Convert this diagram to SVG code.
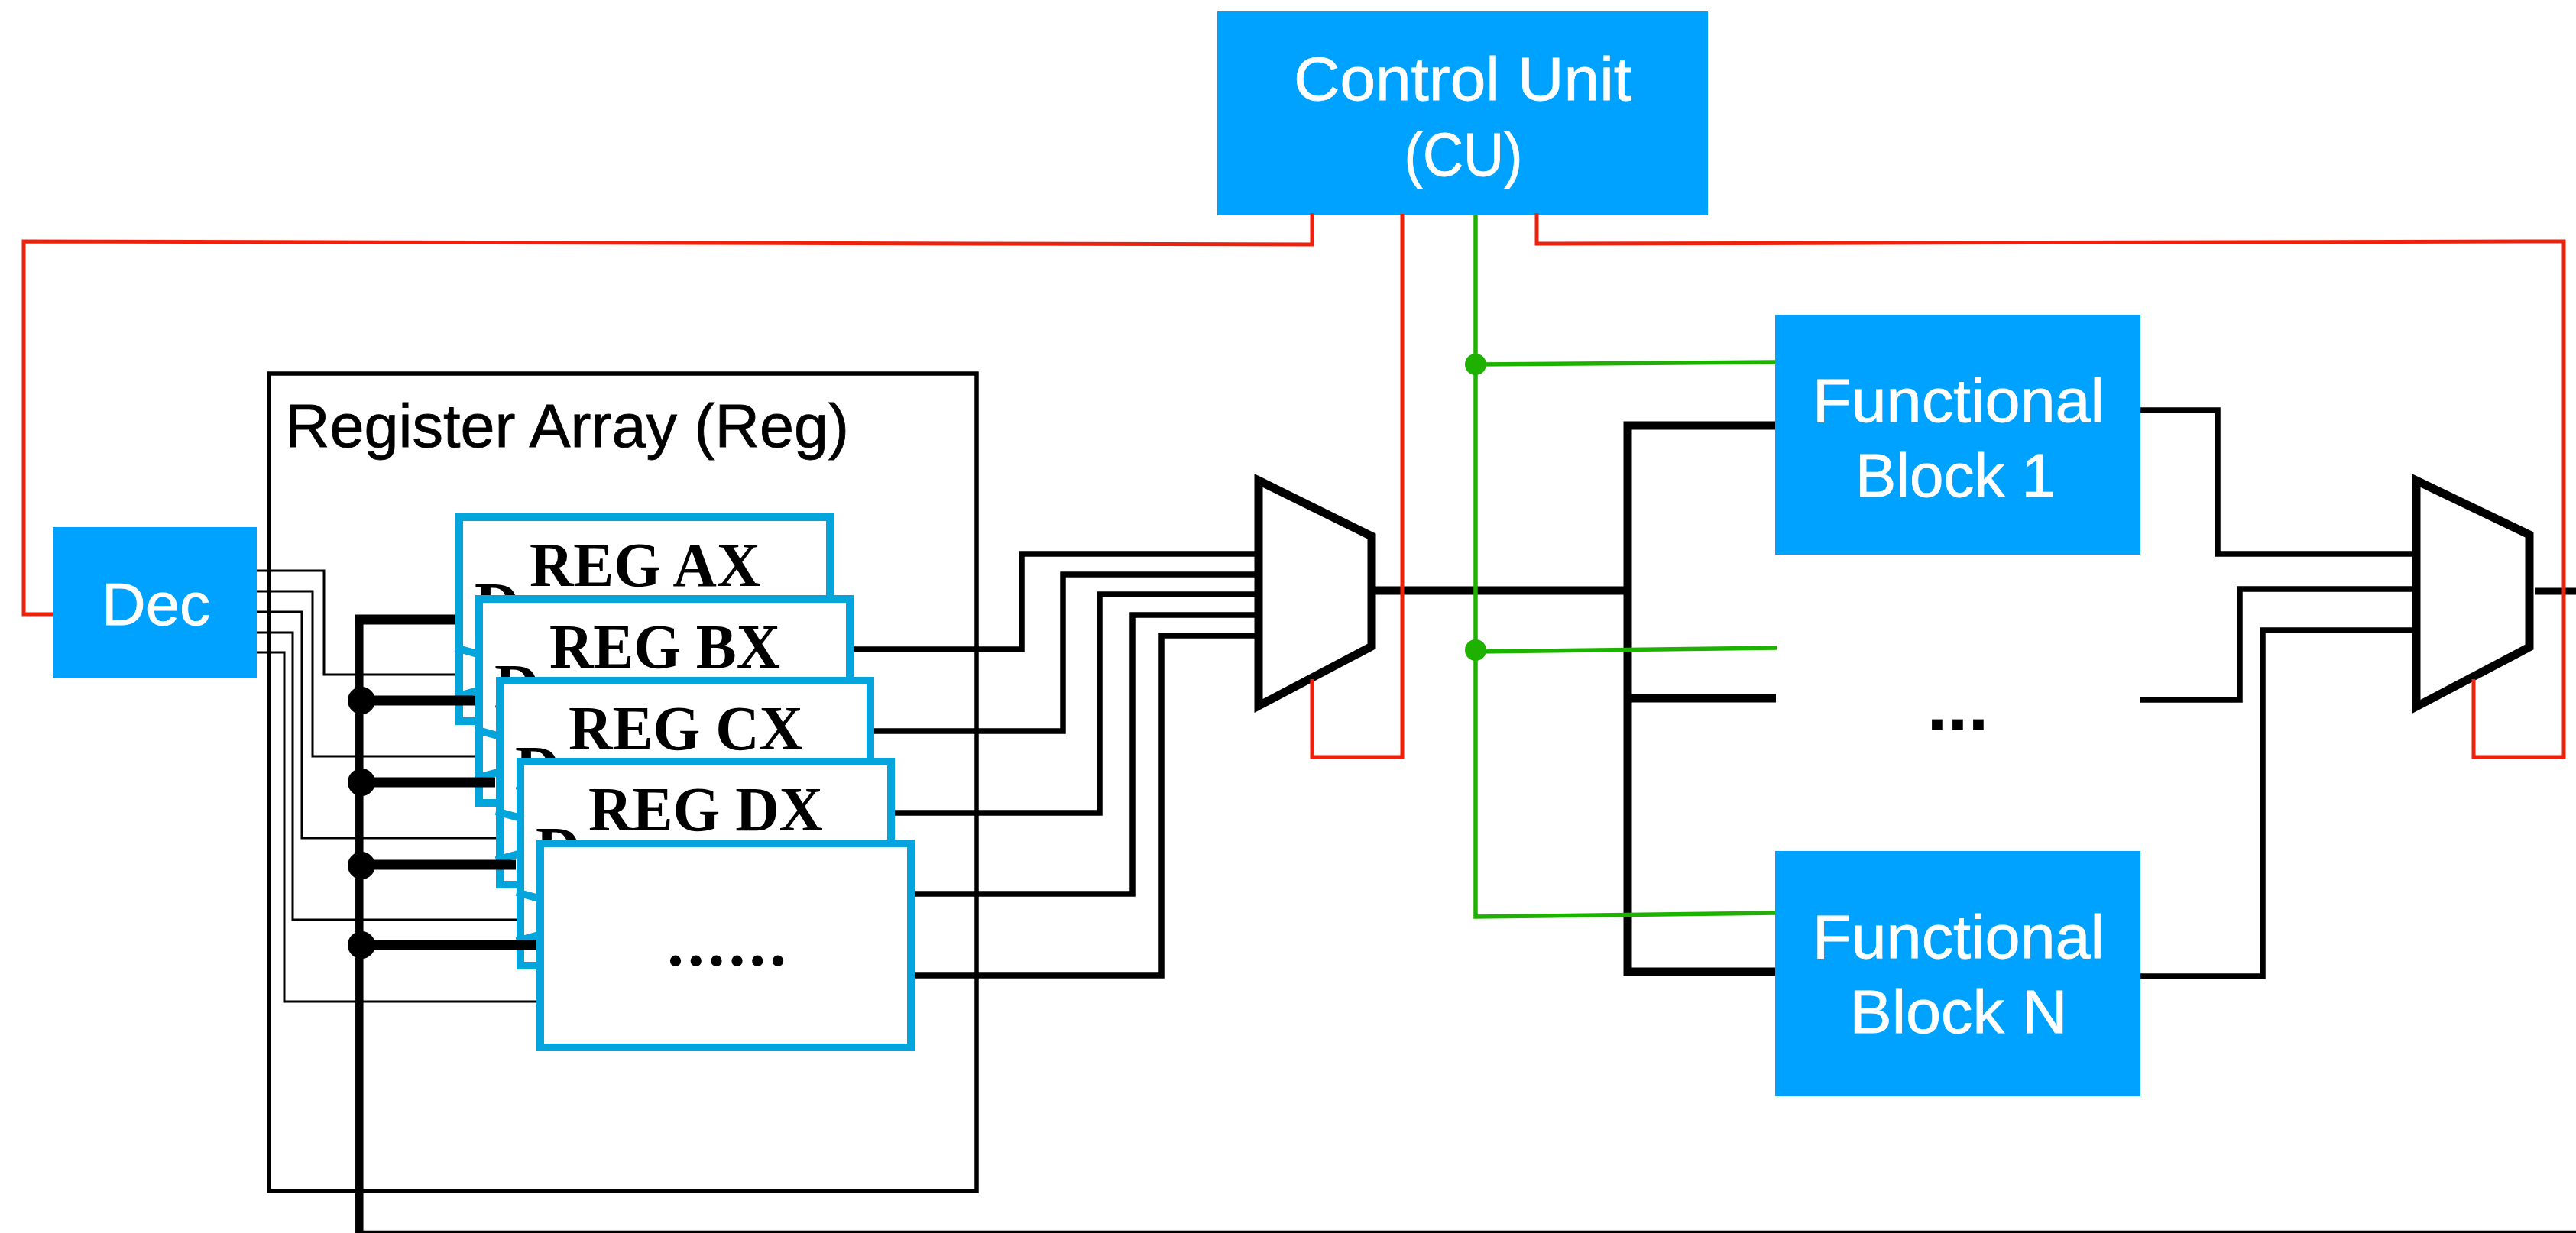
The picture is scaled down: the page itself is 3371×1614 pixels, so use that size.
<svg xmlns="http://www.w3.org/2000/svg" width="3371" height="1614" viewBox="0 0 3371 1614">
<style>
text{font-family:"Liberation Sans",Arial,sans-serif}
.blue{fill:#00A2FF}
.w{fill:#fff;stroke:#fff;stroke-width:.8px;font-size:80px;text-anchor:middle}
.reg{fill:#fff;stroke:#03A5DC;stroke-width:10}
.tri{fill:none;stroke:#03A5DC;stroke-width:10}
.t{font-family:"Liberation Serif","Times New Roman",serif;font-weight:bold;font-size:82px;fill:#000}
.k{fill:none;stroke:#000;stroke-linejoin:miter}
.r{fill:none;stroke:#EE220C;stroke-width:5}
.g{fill:none;stroke:#1EB100;stroke-width:5.5}
.mux{fill:#fff;stroke:#000;stroke-width:11}
</style>
<rect width="3371" height="1614" fill="#fff"/>
<g id="register-array">
<rect x="352" y="489" width="926" height="1070" fill="#fff" stroke="#000" stroke-width="5.500"/>
<text x="373" y="585" font-size="79" textLength="738" lengthAdjust="spacingAndGlyphs" fill="#000" stroke="#000" stroke-width=".8">Register Array (Reg)</text>
</g>
<g id="reg-ax">
<rect class="reg" x="601" y="677" width="485" height="267"/>
<text class="t" x="621" y="819">D</text>
<polyline class="tri" points="596,848 712,880 596,912"/>
<text class="t" x="693" y="767" textLength="302" lengthAdjust="spacingAndGlyphs">REG AX</text>
</g>
<g id="reg-bx">
<rect class="reg" x="627" y="784" width="485" height="267"/>
<text class="t" x="647" y="926">D</text>
<polyline class="tri" points="622,955 738,987 622,1019"/>
<text class="t" x="719" y="874" textLength="302" lengthAdjust="spacingAndGlyphs">REG BX</text>
</g>
<g id="reg-cx">
<rect class="reg" x="654" y="891" width="485" height="267"/>
<text class="t" x="674" y="1033">D</text>
<polyline class="tri" points="649,1062 765,1094 649,1126"/>
<text class="t" x="744" y="981" textLength="307" lengthAdjust="spacingAndGlyphs">REG CX</text>
</g>
<g id="reg-dx">
<rect class="reg" x="681" y="997" width="485" height="267"/>
<text class="t" x="701" y="1139">D</text>
<polyline class="tri" points="676,1168 792,1200 676,1232"/>
<text class="t" x="770" y="1087" textLength="307" lengthAdjust="spacingAndGlyphs">REG DX</text>
</g>
<g id="reg-more">
<rect class="reg" x="707" y="1104" width="485" height="267"/>
<text class="t" x="873" y="1264" style="font-size:88px;letter-spacing:4.800px">......</text>
</g>
<g id="dec">
<rect class="blue" x="69" y="690" width="267" height="197"/>
<text class="w" x="204" y="818" style="font-size:78px" textLength="142" lengthAdjust="spacingAndGlyphs">Dec</text>
</g>
<g id="control-unit">
<rect class="blue" x="1593" y="15" width="642" height="267"/>
<text class="w" x="1914" y="131" textLength="442" lengthAdjust="spacingAndGlyphs">Control Unit</text>
<text class="w" x="1915" y="230" textLength="155" lengthAdjust="spacingAndGlyphs">(CU)</text>
</g>
<g id="functional-block-1">
<rect class="blue" x="2323" y="412" width="478" height="314"/>
<text class="w" x="2563" y="552" textLength="382" lengthAdjust="spacingAndGlyphs">Functional</text>
<text class="w" x="2559" y="650" textLength="262" lengthAdjust="spacingAndGlyphs">Block 1</text>
</g>
<g id="functional-block-n">
<rect class="blue" x="2323" y="1114" width="478" height="321"/>
<text class="w" x="2563" y="1254" textLength="382" lengthAdjust="spacingAndGlyphs">Functional</text>
<text class="w" x="2563" y="1352" textLength="285" lengthAdjust="spacingAndGlyphs">Block N</text>
</g>
<g id="functional-block-ellipsis">
<text x="2562" y="956" font-size="97" font-weight="bold" text-anchor="middle" fill="#000">...</text>
</g>
<g id="mux-1"><polygon class="mux" points="1647,629 1795,702 1795,846 1647,924"/></g>
<g id="mux-2"><polygon class="mux" points="3162,629 3310,700 3310,847 3162,925"/></g>
<g id="connectors">
<g class="k" stroke-width="3">
<polyline points="336,747 424,747 424,883 596,883"/>
<polyline points="336,774 409,774 409,990 622,990"/>
<polyline points="336,801 395,801 395,1097 649,1097"/>
<polyline points="336,828 383,828 383,1204 676,1204"/>
<polyline points="336,854 372,854 372,1311 702,1311"/>
</g>
<line class="k" stroke-width="13" x1="595" y1="811" x2="465" y2="811"/>
<polyline class="k" stroke-width="10.500" points="470.300,805 470.300,1616 3371,1616"/>
<g class="k" stroke-width="13">
<line x1="473" y1="917" x2="621" y2="917"/>
<line x1="473" y1="1024" x2="648" y2="1024"/>
<line x1="473" y1="1132" x2="675" y2="1132"/>
<line x1="473" y1="1237" x2="702" y2="1237"/>
</g>
<g fill="#000">
<circle cx="473" cy="917" r="18"/>
<circle cx="473" cy="1024" r="18"/>
<circle cx="473" cy="1133" r="18"/>
<circle cx="473" cy="1237" r="18"/>
</g>
<g class="k" stroke-width="7.500">
<polyline points="1118,850 1337,850 1337,725 1642,725"/>
<polyline points="1144,957 1391,957 1391,752 1642,752"/>
<polyline points="1171,1064 1439,1064 1439,778 1642,778"/>
<polyline points="1197,1170 1482,1170 1482,805 1642,805"/>
<polyline points="1197,1277 1520,1277 1520,832 1642,832"/>
<polyline points="2801,537 2902,537 2902,725 3157,725"/>
<polyline points="2801,916 2931,916 2931,771 3157,771"/>
<polyline points="2801,1278 2961,1278 2961,825 3157,825"/>
<line x1="3317" y1="774" x2="3371" y2="774" stroke-width="9"/>
</g>
<g class="k" stroke-width="11">
<line x1="1800" y1="773" x2="2135" y2="773"/>
<polyline points="2323,557 2130,557 2130,1272 2323,1272"/>
<line x1="2130" y1="914" x2="2324" y2="914"/>
</g>
<g class="g">
<polyline points="1931,282 1931,1200 2323,1195"/>
<line x1="1931" y1="477" x2="2323" y2="474"/>
<line x1="1931" y1="853" x2="2325" y2="848"/>
</g>
<g fill="#1EB100">
<circle cx="1931" cy="477" r="14"/>
<circle cx="1931" cy="851" r="14"/>
</g>
<g class="r">
<polyline points="1717,279 1717,320 31,316 31,804 69,804"/>
<polyline points="1835,280 1835,991 1717,991 1717,889"/>
<polyline points="2011,279 2011,319 3355,316 3355,991 3237,991 3237,889"/>
</g>
</g>
</svg>
